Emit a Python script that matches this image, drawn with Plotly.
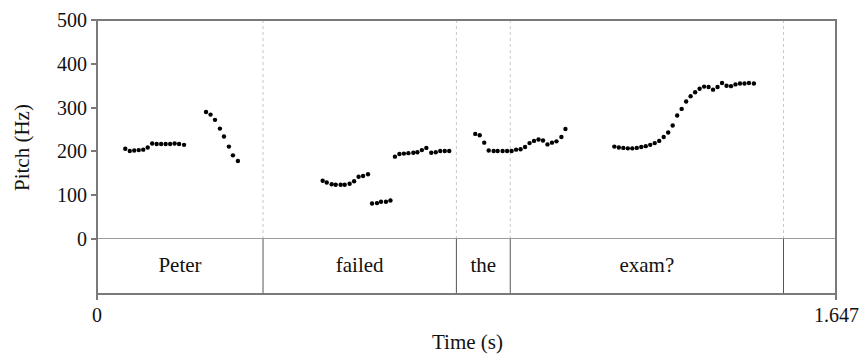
import plotly.graph_objects as go

# ---- data ----
t_peter1 = [0.063, 0.073, 0.083, 0.093, 0.103, 0.113, 0.123, 0.133, 0.143, 0.153, 0.163, 0.173, 0.183, 0.194]
f_peter1 = [206, 201, 202, 203, 204, 209, 218, 217, 217, 217, 217, 218, 217, 215]

t_peter2 = [0.243, 0.253, 0.263, 0.274, 0.283, 0.294, 0.303, 0.314]
f_peter2 = [290, 284, 272, 252, 234, 211, 191, 178]

t_failed1 = [0.503, 0.512, 0.523, 0.532, 0.543, 0.552, 0.563, 0.573, 0.583, 0.593, 0.604]
f_failed1 = [133, 129, 125, 124, 124, 124, 126, 132, 142, 144, 148]

t_failed2 = [0.613, 0.624, 0.633, 0.644, 0.654]
f_failed2 = [81, 82, 85, 85, 88]

t_failed3 = [0.664, 0.674, 0.684, 0.694, 0.705, 0.714, 0.724, 0.734, 0.745, 0.755, 0.765, 0.775, 0.785]
f_failed3 = [188, 194, 195, 196, 197, 198, 203, 208, 197, 198, 201, 201, 201]

t_the = [0.843, 0.853, 0.863, 0.873, 0.884, 0.893, 0.904, 0.914, 0.924, 0.934, 0.944,
         0.954, 0.964, 0.974, 0.984, 0.994, 1.004, 1.014, 1.024, 1.035, 1.044]
f_the = [240, 237, 220, 202, 201, 201, 201, 201, 201, 204, 205,
         210, 219, 224, 227, 225, 216, 220, 223, 233, 251]

t_exam = [1.153, 1.163, 1.173, 1.183, 1.193, 1.203, 1.213, 1.223, 1.233, 1.243, 1.253,
          1.263, 1.273, 1.283, 1.293, 1.303, 1.313, 1.323, 1.333, 1.343, 1.353, 1.363,
          1.373, 1.383, 1.393, 1.403, 1.413, 1.423, 1.433, 1.443, 1.453, 1.464]
f_exam = [211, 209, 208, 207, 207, 208, 210, 212, 215, 219, 224,
          233, 243, 259, 282, 297, 314, 326, 335, 343, 348, 347,
          341, 347, 356, 350, 349, 353, 355, 355, 356, 355]

boundaries = [0.370, 0.801, 0.921, 1.530]
words = ["Peter", "failed", "the", "exam?"]
word_starts = [0.0, 0.370, 0.801, 0.921]
word_ends = [0.370, 0.801, 0.921, 1.530]

t_max = 1.647
y_ticks = [0, 100, 200, 300, 400, 500]
x_ticks = [0, 1.647]
x_ticktext = ["0", "1.647"]

FONT = "Liberation Serif"
LINE = "#7a7a7a"
TXT = "#111111"

times = t_peter1 + t_peter2 + t_failed1 + t_failed2 + t_failed3 + t_the + t_exam
freqs = f_peter1 + f_peter2 + f_failed1 + f_failed2 + f_failed3 + f_the + f_exam

PLOT_H = 356 - 20 - 62
tier_frac = 55.0 / PLOT_H

fig = go.Figure()
fig.add_trace(go.Scatter(
    x=times, y=freqs, mode="markers",
    marker=dict(color="black", size=4.4, line=dict(width=0)),
    xaxis="x", yaxis="y", hoverinfo="skip", showlegend=False))

fig.add_trace(go.Scatter(
    x=[(a + b) / 2 for a, b in zip(word_starts, word_ends)],
    y=[0.5] * len(words), text=words, mode="text",
    textfont=dict(family=FONT, size=21, color=TXT),
    xaxis="x", yaxis="y2", hoverinfo="skip", showlegend=False))

shapes = []
for b in boundaries:
    shapes.append(dict(type="line", xref="x", yref="y", x0=b, x1=b, y0=0, y1=500,
                       line=dict(color="#c8c8c8", width=1, dash="dot"), layer="below"))
    shapes.append(dict(type="line", xref="x", yref="y2", x0=b, x1=b, y0=0, y1=1,
                       line=dict(color="#555555", width=1)))
shapes.append(dict(type="line", xref="paper", yref="y", x0=0, x1=1, y0=0, y1=0,
                   line=dict(color=LINE, width=1.5)))
shapes.append(dict(type="rect", xref="paper", yref="paper", x0=0, x1=1, y0=0, y1=1,
                   line=dict(color=LINE, width=2)))

annotations = [
    dict(text="Pitch (Hz)", textangle=-90, xref="paper", yref="paper",
         x=0, y=(356 - 62 - 148) / PLOT_H, xanchor="center", yanchor="middle",
         xshift=-75, showarrow=False,
         font=dict(family=FONT, size=21, color=TXT)),
    dict(text="Time (s)", xref="paper", yref="paper",
         x=(467 - 97) / (864 - 97 - 28), y=0, xanchor="center", yanchor="middle",
         yshift=-(342 - 294), showarrow=False,
         font=dict(family=FONT, size=21, color=TXT)),
]
for tv, tt in zip(x_ticks, x_ticktext):
    annotations.append(dict(text=tt, xref="x", yref="paper", x=tv, y=0,
                            xanchor="center", yanchor="middle", yshift=-(315 - 294),
                            showarrow=False, font=dict(family=FONT, size=20, color=TXT)))

fig.update_layout(
    width=864, height=356,
    margin=dict(l=97, r=28, t=20, b=62, autoexpand=False),
    paper_bgcolor="white", plot_bgcolor="white",
    font=dict(family=FONT, size=20, color=TXT),
    shapes=shapes,
    xaxis=dict(range=[0, t_max], anchor="y2", tickvals=x_ticks, showticklabels=False,
               ticks="outside", ticklen=5, tickcolor=LINE, tickwidth=1.5,
               showline=False, showgrid=False, zeroline=False),
    yaxis=dict(domain=[tier_frac, 1], range=[0, 500], tickvals=y_ticks,
               ticks="outside", ticklen=5, tickcolor=LINE, tickwidth=1.5,
               showline=False, showgrid=False, zeroline=False,
               tickfont=dict(family=FONT, size=20, color=TXT)),
    yaxis2=dict(domain=[0, tier_frac], range=[0, 1], visible=False, fixedrange=True),
    annotations=annotations,
)

fig.write_html("out.html")
